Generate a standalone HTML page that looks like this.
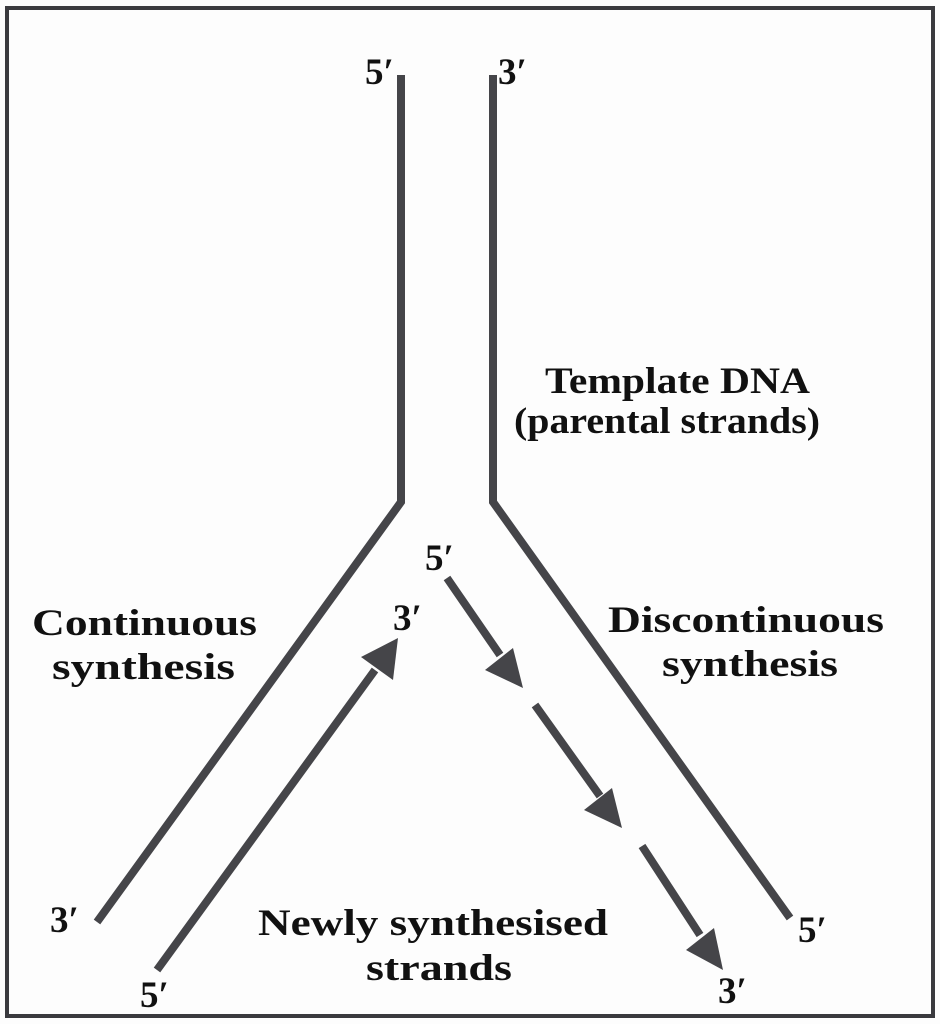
<!DOCTYPE html>
<html><head><style>
body{margin:0;background:#fff;}
svg{display:block}
text{font-family:"Liberation Serif",serif;font-size:37px;fill:#111;font-weight:bold}
</style></head><body>
<svg width="940" height="1024" viewBox="0 0 940 1024">
<rect x="0" y="0" width="940" height="1024" fill="#fdfdfd"/>
<rect x="7" y="8" width="926" height="1008" fill="none" stroke="#3a3a3e" stroke-width="4"/>
<g stroke="#454549" stroke-width="8" fill="none" stroke-linejoin="miter">
<polyline points="401,75 401,502 97,922"/>
<polyline points="493,75 493,502 790,918"/>
<line x1="157" y1="970" x2="375" y2="670"/>
<line x1="447" y1="578" x2="500" y2="655"/>
<line x1="535" y1="705" x2="600" y2="796"/>
<line x1="642" y1="846" x2="700" y2="935"/>
</g>
<g fill="#454549">
<polygon points="398,638 393,680 361,657"/>
<polygon points="523,688 485,670 513,648"/>
<polygon points="622,828 584,810 612,788"/>
<polygon points="723,970 686,950 714,928"/>
</g>
<text x="365" y="84">5′</text>
<text x="498" y="84">3′</text>
<text x="545" y="393" textLength="265" lengthAdjust="spacingAndGlyphs">Template DNA</text>
<text x="514" y="433" textLength="306" lengthAdjust="spacingAndGlyphs">(parental strands)</text>
<text x="32" y="635" textLength="225" lengthAdjust="spacingAndGlyphs">Continuous</text>
<text x="52" y="679" textLength="183" lengthAdjust="spacingAndGlyphs">synthesis</text>
<text x="608" y="632" textLength="276" lengthAdjust="spacingAndGlyphs">Discontinuous</text>
<text x="662" y="676" textLength="176" lengthAdjust="spacingAndGlyphs">synthesis</text>
<text x="425" y="570">5′</text>
<text x="393" y="630">3′</text>
<text x="258" y="935" textLength="350" lengthAdjust="spacingAndGlyphs">Newly synthesised</text>
<text x="366" y="980" textLength="146" lengthAdjust="spacingAndGlyphs">strands</text>
<text x="50" y="932">3′</text>
<text x="140" y="1007">5′</text>
<text x="798" y="942">5′</text>
<text x="718" y="1003">3′</text>
</svg>
</body></html>
